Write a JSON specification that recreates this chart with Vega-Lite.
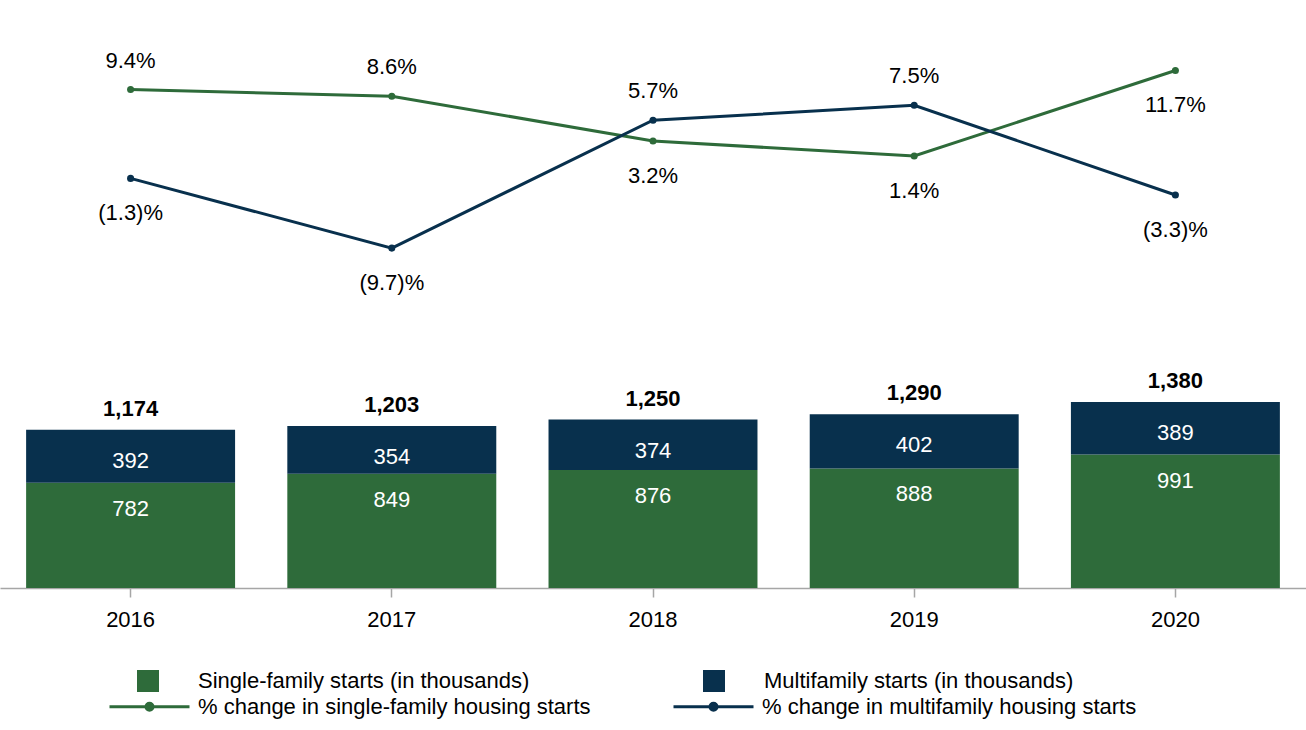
{
  "$schema": "https://vega.github.io/schema/vega-lite/v6.json",
  "width": 1306,
  "height": 588,
  "autosize": {"type": "none"},
  "padding": {"left": 0, "top": 0, "right": 0, "bottom": 142},
  "background": "white",
  "config": {
    "view": {"stroke": null},
    "font": "Liberation Sans",
    "text": {"font": "Liberation Sans", "fontSize": 22},
    "axis": {"labelFont": "Liberation Sans"},
    "legend": {"labelFont": "Liberation Sans", "labelFontSize": 22, "labelColor": "#000000", "padding": 0, "offset": 0, "labelLimit": 600}
  },
  "datasets": {
    "bars": [
      {"year": "2016", "type": "Single-family starts (in thousands)", "starts": 782},
      {"year": "2016", "type": "Multifamily starts (in thousands)", "starts": 392},
      {"year": "2017", "type": "Single-family starts (in thousands)", "starts": 849},
      {"year": "2017", "type": "Multifamily starts (in thousands)", "starts": 354},
      {"year": "2018", "type": "Single-family starts (in thousands)", "starts": 876},
      {"year": "2018", "type": "Multifamily starts (in thousands)", "starts": 374},
      {"year": "2019", "type": "Single-family starts (in thousands)", "starts": 888},
      {"year": "2019", "type": "Multifamily starts (in thousands)", "starts": 402},
      {"year": "2020", "type": "Single-family starts (in thousands)", "starts": 991},
      {"year": "2020", "type": "Multifamily starts (in thousands)", "starts": 389}
    ],
    "lines": [
      {"year": "2016", "series": "% change in single-family housing starts", "pct": 9.4},
      {"year": "2017", "series": "% change in single-family housing starts", "pct": 8.6},
      {"year": "2018", "series": "% change in single-family housing starts", "pct": 3.2},
      {"year": "2019", "series": "% change in single-family housing starts", "pct": 1.4},
      {"year": "2020", "series": "% change in single-family housing starts", "pct": 11.7},
      {"year": "2016", "series": "% change in multifamily housing starts", "pct": -1.3},
      {"year": "2017", "series": "% change in multifamily housing starts", "pct": -9.7},
      {"year": "2018", "series": "% change in multifamily housing starts", "pct": 5.7},
      {"year": "2019", "series": "% change in multifamily housing starts", "pct": 7.5},
      {"year": "2020", "series": "% change in multifamily housing starts", "pct": -3.3}
    ]
  },
  "encoding": {
    "x": {
      "field": "year",
      "type": "ordinal",
      "scale": {"paddingInner": 0.2, "paddingOuter": 0.1},
      "axis": {
        "title": null,
        "labelAngle": 0,
        "labelFontSize": 22,
        "labelColor": "#000000",
        "domainColor": "#a6a6a6",
        "domainWidth": 1.5,
        "tickColor": "#a6a6a6",
        "tickWidth": 1.5,
        "tickSize": 9,
        "labelPadding": 12,
        "grid": false
      }
    }
  },
  "layer": [
    {
      "data": {"name": "bars"},
      "transform": [
        {"calculate": "datum.type == 'Single-family starts (in thousands)' ? 0 : 1", "as": "stackOrder"}
      ],
      "mark": {"type": "bar"},
      "encoding": {
        "y": {"field": "starts", "type": "quantitative", "stack": "zero", "scale": {"domain": [0, 4365]}, "axis": null},
        "fill": {
          "field": "type",
          "type": "nominal",
          "scale": {"domain": ["Single-family starts (in thousands)", "Multifamily starts (in thousands)"], "range": ["#2e6b3a", "#08304d"]},
          "legend": {
            "title": null,
            "orient": "none",
            "legendX": 137,
            "legendY": 670,
            "direction": "horizontal",
            "symbolType": "square",
            "symbolSize": 484,
            "symbolStrokeWidth": 0,
            "labelOffset": 39,
            "columnPadding": 173
          }
        },
        "order": {"field": "stackOrder"}
      }
    },
    {
      "data": {"name": "bars"},
      "transform": [
        {"calculate": "datum.type == 'Single-family starts (in thousands)' ? 0 : 1", "as": "stackOrder"},
        {"stack": "starts", "groupby": ["year"], "sort": [{"field": "stackOrder"}], "as": ["y0", "y1"]},
        {"filter": "datum.stackOrder == 0"}
      ],
      "mark": {"type": "text", "color": "#ffffff", "baseline": "middle", "dy": 26, "fontSize": 22},
      "encoding": {
        "y": {"field": "y1", "type": "quantitative", "scale": {"domain": [0, 4365]}, "axis": null},
        "text": {"field": "starts", "type": "quantitative", "format": "d"}
      }
    },
    {
      "data": {"name": "bars"},
      "transform": [
        {"calculate": "datum.type == 'Single-family starts (in thousands)' ? 0 : 1", "as": "stackOrder"},
        {"stack": "starts", "groupby": ["year"], "sort": [{"field": "stackOrder"}], "as": ["y0", "y1"]},
        {"filter": "datum.stackOrder == 1"}
      ],
      "mark": {"type": "text", "color": "#ffffff", "baseline": "middle", "dy": 31, "fontSize": 22},
      "encoding": {
        "y": {"field": "y1", "type": "quantitative", "scale": {"domain": [0, 4365]}, "axis": null},
        "text": {"field": "starts", "type": "quantitative", "format": "d"}
      }
    },
    {
      "data": {"name": "bars"},
      "transform": [
        {"aggregate": [{"op": "sum", "field": "starts", "as": "total"}], "groupby": ["year"]}
      ],
      "mark": {"type": "text", "color": "#000000", "baseline": "middle", "dy": -21, "fontSize": 22, "fontWeight": "bold"},
      "encoding": {
        "y": {"field": "total", "type": "quantitative", "scale": {"domain": [0, 4365]}, "axis": null},
        "text": {"field": "total", "type": "quantitative", "format": ",d"}
      }
    },
    {
      "data": {"name": "lines"},
      "mark": {"type": "line", "strokeWidth": 3},
      "encoding": {
        "y": {"field": "pct", "type": "quantitative", "scale": {"domain": [-50.65, 20.19]}, "axis": null},
        "color": {
          "field": "series",
          "type": "nominal",
          "scale": {"domain": ["% change in single-family housing starts", "% change in multifamily housing starts"], "range": ["#2e6b3a", "#08304d"]},
          "legend": {
            "title": null,
            "orient": "none",
            "legendX": 108,
            "legendY": 665,
            "direction": "horizontal",
            "symbolType": "M-1,0L1,0M-0.0875,0A0.0875,0.0875,0,1,0,0.0875,0A0.0875,0.0875,0,1,0,-0.0875,0Z",
            "symbolSize": 6400,
            "symbolStrokeWidth": 3,
            "labelOffset": 7,
            "columnPadding": 76,
            "encode": {"symbols": {"update": {"fill": {"scale": "color", "field": "value"}, "stroke": {"scale": "color", "field": "value"}, "strokeWidth": {"value": 3}}}}
          }
        }
      }
    },
    {
      "data": {"name": "lines"},
      "mark": {"type": "point", "filled": true, "size": 50, "opacity": 1},
      "encoding": {
        "y": {"field": "pct", "type": "quantitative", "scale": {"domain": [-50.65, 20.19]}, "axis": null},
        "color": {"field": "series", "type": "nominal", "legend": null}
      }
    },
    {
      "data": {"name": "lines"},
      "transform": [
        {"filter": "(datum.series == '% change in single-family housing starts' && (datum.year == '2016' || datum.year == '2017')) || (datum.series == '% change in multifamily housing starts' && (datum.year == '2018' || datum.year == '2019'))"},
        {"calculate": "datum.pct < 0 ? '(' + format(-datum.pct, '.1f') + ')%' : format(datum.pct, '.1f') + '%'", "as": "label"}
      ],
      "mark": {"type": "text", "color": "#000000", "baseline": "middle", "dy": -29, "fontSize": 22},
      "encoding": {
        "y": {"field": "pct", "type": "quantitative", "scale": {"domain": [-50.65, 20.19]}, "axis": null},
        "text": {"field": "label", "type": "nominal"}
      }
    },
    {
      "data": {"name": "lines"},
      "transform": [
        {"filter": "!((datum.series == '% change in single-family housing starts' && (datum.year == '2016' || datum.year == '2017')) || (datum.series == '% change in multifamily housing starts' && (datum.year == '2018' || datum.year == '2019')))"},
        {"calculate": "datum.pct < 0 ? '(' + format(-datum.pct, '.1f') + ')%' : format(datum.pct, '.1f') + '%'", "as": "label"}
      ],
      "mark": {"type": "text", "color": "#000000", "baseline": "middle", "dy": 35, "fontSize": 22},
      "encoding": {
        "y": {"field": "pct", "type": "quantitative", "scale": {"domain": [-50.65, 20.19]}, "axis": null},
        "text": {"field": "label", "type": "nominal"}
      }
    }
  ],
  "resolve": {"scale": {"y": "independent"}}
}
